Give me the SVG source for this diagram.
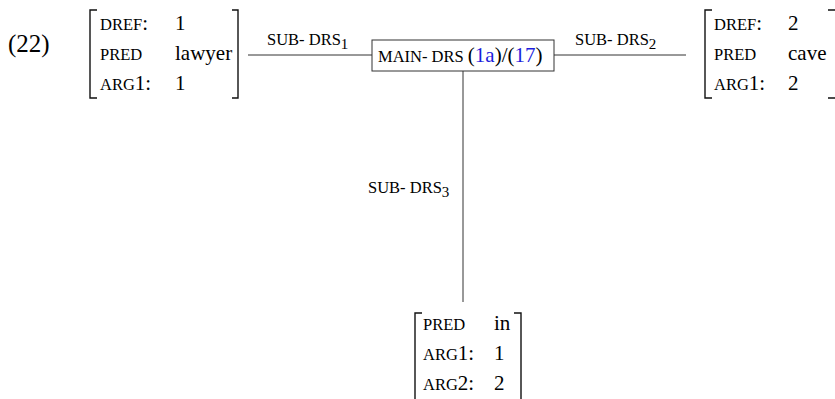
<svg xmlns="http://www.w3.org/2000/svg" width="835" height="399" viewBox="0 0 835 399" font-family="'Liberation Serif', 'Times New Roman', serif">
<style>
  text { font-family: "Liberation Serif", "Times New Roman", serif; fill: #000; }
  .v { font-size: 21px; }
  .sc { font-size: 16.5px; }
  .sub { font-size: 15px; }
  .blue { fill: #1c1cdc; }
  .br { fill: none; stroke: #111; stroke-width: 1.4; }
  .ln { fill: none; stroke: #333; stroke-width: 1; }
  .box { fill: #fff; stroke: #333; stroke-width: 1; }
</style>
<rect width="835" height="399" fill="#fff"/>
<text x="8" y="52" style="font-size:25px">(22)</text>

<g id="connectors">
  <path class="ln" d="M248,55 H372"/>
  <path class="ln" d="M554,55 H686"/>
  <path class="ln" d="M463,71 V302"/>
  <text x="267" y="45"><tspan class="sc">SUB- DRS</tspan><tspan class="sub" dy="3.5">1</tspan></text>
  <text x="575" y="45"><tspan class="sc">SUB- DRS</tspan><tspan class="sub" dy="3.5">2</tspan></text>
  <text x="368" y="193"><tspan class="sc">SUB- DRS</tspan><tspan class="sub" dy="3.5">3</tspan></text>
</g>

<g id="main-drs">
  <rect class="box" x="372" y="40" width="182" height="31"/>
  <text x="378" y="62"><tspan class="sc">MAIN- DRS </tspan><tspan class="v">(</tspan><tspan class="v blue">1a</tspan><tspan class="v">)/(</tspan><tspan class="v blue">17</tspan><tspan class="v">)</tspan></text>
</g>

<g id="avm-lawyer">
  <path class="br" d="M97,10 H90 V98 H97"/>
  <path class="br" d="M232,10 H238 V98 H232"/>
  <text x="100" y="30"><tspan class="sc">DREF</tspan><tspan class="v">:</tspan></text>
  <text x="175" y="30" class="v">1</text>
  <text x="100" y="60" class="sc">PRED</text>
  <text x="175" y="60" class="v">lawyer</text>
  <text x="100" y="90"><tspan class="sc">ARG</tspan><tspan class="v">1:</tspan></text>
  <text x="175" y="90" class="v">1</text>
</g>

<g id="avm-cave">
  <path class="br" d="M712,10 H705 V98 H712"/>
  <path class="br" d="M828,10 H836 V98 H828"/>
  <text x="714" y="30"><tspan class="sc">DREF</tspan><tspan class="v">:</tspan></text>
  <text x="788" y="30" class="v">2</text>
  <text x="714" y="60" class="sc">PRED</text>
  <text x="788" y="60" class="v">cave</text>
  <text x="714" y="90"><tspan class="sc">ARG</tspan><tspan class="v">1:</tspan></text>
  <text x="788" y="90" class="v">2</text>
</g>

<g id="avm-in">
  <path class="br" d="M422,313 H415 V405"/>
  <path class="br" d="M514,313 H521 V405"/>
  <text x="423" y="330" class="sc">PRED</text>
  <text x="494" y="330" class="v">in</text>
  <text x="423" y="360"><tspan class="sc">ARG</tspan><tspan class="v">1:</tspan></text>
  <text x="494" y="360" class="v">1</text>
  <text x="423" y="390"><tspan class="sc">ARG</tspan><tspan class="v">2:</tspan></text>
  <text x="494" y="390" class="v">2</text>
</g>
</svg>
